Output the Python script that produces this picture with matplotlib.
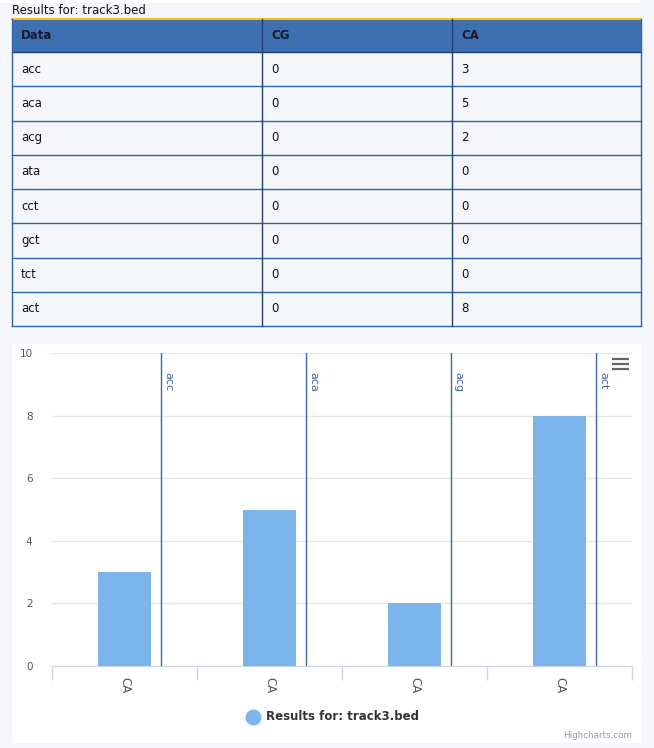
import matplotlib.pyplot as plt
from matplotlib.patches import Rectangle

# table data
row_codes = ['acc', 'aca', 'acg', 'ata', 'cct', 'gct', 'tct', 'act']
cg_counts = [0, 0, 0, 0, 0, 0, 0, 0]
ca_counts = [3, 5, 2, 0, 0, 0, 0, 8]
table_header = ['Data', 'CG', 'CA']

# chart data (non-zero CA rows)
chart_codes = ['acc', 'aca', 'acg', 'act']
chart_values = [3, 5, 2, 8]
chart_category = 'CA'
series_name = 'Results for: track3.bed'

W, H = 654, 748
fig = plt.figure(figsize=(W / 100, H / 100), dpi=100)
fig.patch.set_facecolor('#f5f6fa')
plt.rcParams['font.family'] = ['DejaVu Sans']

# page overlay in pixel coords
bg = fig.add_axes([0, 0, 1, 1])
bg.set_xlim(0, W)
bg.set_ylim(H, 0)
bg.axis('off')
bg.set_zorder(0)

bg.add_patch(Rectangle((0, 0), 641, 3, color='white', lw=0))
bg.text(12, 10, series_name, fontsize=8.5, color='#111111', va='center')

# table
col_x = [12, 262, 452, 641]
head_top, head_bot = 19, 52
row_h = 34.25
border = '#2f64ad'
bg.add_patch(Rectangle((12, head_top), 629, head_bot - head_top, facecolor='#3e70b1',
                       edgecolor='none'))
bg.plot([12, 641], [head_top, head_top], color='#f2c21b', lw=1.5)
for j, name in enumerate(table_header):
    bg.text(col_x[j] + 9, (head_top + head_bot) / 2, name, fontsize=8.5, fontweight='bold',
            color='#1a1a2a', va='center')
n = len(row_codes)
table_bot = head_bot + n * row_h
for i in range(n):
    y0 = head_bot + i * row_h
    bg.plot([12, 641], [y0 + row_h, y0 + row_h], color=border, lw=1)
    yc = y0 + row_h / 2
    for j, val in enumerate([row_codes[i], cg_counts[i], ca_counts[i]]):
        bg.text(col_x[j] + 9, yc, str(val), fontsize=8.5, color='#111111', va='center')
bg.plot([12, 641], [head_bot, head_bot], color='#1f3f70', lw=1)
for x in col_x:
    bg.plot([x, x], [head_top, table_bot], color=border if x in (12, 641) else '#1f3f70',
            lw=1)

# chart panel
bg.add_patch(Rectangle((12, 344), 630, 399, color='white', lw=0))

# hamburger menu
for yy in (359, 364, 369):
    bg.plot([612, 629], [yy, yy], color='#666666', lw=1.6, solid_capstyle='butt')

# legend
bg.scatter([253], [717], s=110, color='#7cb5ec', zorder=3)
bg.text(266, 717, series_name, fontsize=8.5, fontweight='bold', color='#333333',
        va='center')
bg.text(632, 736, 'Highcharts.com', fontsize=6.3, color='#999999', ha='right',
        va='center')

# chart axes
left, right, top, bottom = 52, 632, 353, 666
ax = fig.add_axes([left / W, 1 - bottom / H, (right - left) / W, (bottom - top) / H])
ax.set_zorder(2)
ax.set_facecolor('none')
xs = list(range(len(chart_values)))
ax.bar(xs, chart_values, width=0.366, color='#7cb5ec', zorder=2)
for x, code in zip(xs, chart_codes):
    ax.axvline(x + 0.255, color='#3a67a8', lw=1, zorder=3)
    ax.annotate(code, xy=(x + 0.255, 10), xytext=(1.5, -14), textcoords='offset points',
                rotation=-90, fontsize=8, color='#3e66a6', ha='left', va='top')
ax.set_xlim(-0.5, len(chart_values) - 0.5)
ax.set_ylim(0, 10)
ax.set_yticks(range(0, 11, 2))
ax.grid(axis='y', color='#e6e6e6', lw=1, zorder=0)
ax.set_axisbelow(True)
ax.tick_params(axis='y', length=0, labelsize=7.5, labelcolor='#555555', pad=14)
ax.set_xticks(xs)
ax.set_xticklabels([chart_category] * len(xs), rotation=-90, fontsize=8.5,
                   color='#555555')
ax.set_xticks([x - 0.5 for x in range(len(xs) + 1)], minor=True)
ax.tick_params(axis='x', which='major', length=0, pad=8)
ax.tick_params(axis='x', which='minor', length=10, color='#ccd6eb', width=1)
for s in ('top', 'right', 'left'):
    ax.spines[s].set_visible(False)
ax.spines['bottom'].set_color('#ccd6eb')

fig.savefig('out.png', dpi=100, facecolor=fig.get_facecolor())
